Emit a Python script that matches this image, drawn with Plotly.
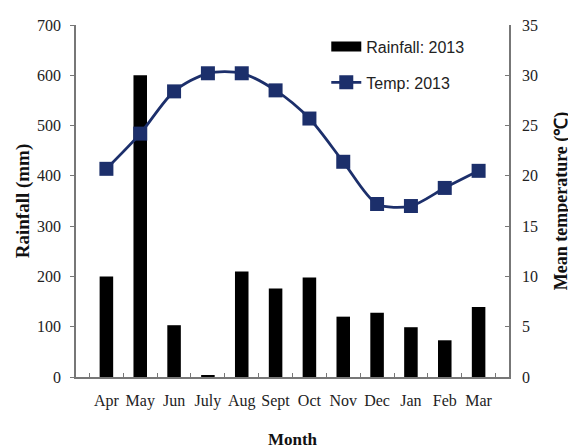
import plotly.graph_objects as go

months = ["Apr", "May", "Jun", "July", "Aug", "Sept", "Oct", "Nov", "Dec", "Jan", "Feb", "Mar"]
rainfall = [200, 600, 103, 3, 210, 176, 198, 120, 128, 99, 73, 139]
temperature = [20.7, 24.2, 28.4, 30.2, 30.2, 28.5, 25.7, 21.4, 17.2, 17.0, 18.8, 20.5]

navy = "#1c2f6b"
serif = "Liberation Serif, Times New Roman, serif"

fig = go.Figure()
fig.add_trace(go.Bar(
    x=months, y=rainfall, name="Rainfall: 2013",
    marker=dict(color="black", line=dict(width=0)),
    showlegend=False, yaxis="y",
))
# legend entry for rainfall (wide black block like the reference)
fig.add_trace(go.Scatter(
    x=[None], y=[None], name="Rainfall: 2013", mode="lines",
    line=dict(color="black", width=10),
    legendgroup="a", yaxis="y",
))
fig.add_trace(go.Scatter(
    x=months, y=temperature, name="Temp: 2013", mode="lines+markers",
    line=dict(color=navy, width=2.8, shape="spline", smoothing=0.8),
    marker=dict(symbol="square", size=14, color=navy),
    legendgroup="b", yaxis="y2",
))

fig.update_layout(
    width=576, height=448,
    margin=dict(l=68, r=75, t=17, b=79, autoexpand=False),
    plot_bgcolor="white", paper_bgcolor="white",
    bargap=0.6,
    showlegend=True,
    legend=dict(
        x=0.578, y=0.987, xanchor="left", yanchor="top",
        font=dict(family="Liberation Sans, Arial, sans-serif", size=16, color="#222"),
        bgcolor="rgba(0,0,0,0)", traceorder="grouped", tracegroupgap=12,
        itemwidth=30,
    ),
    xaxis=dict(
        showline=True, linecolor="#777", linewidth=1.5,
        ticks="inside", tickson="boundaries", ticklen=4, tickcolor="#777",
        tickangle=0, automargin=False, ticklabelstandoff=8,
        tickfont=dict(family=serif, size=16, color="#222"),
        title=dict(text="<b>Month</b>", font=dict(family=serif, size=17, color="#111"), standoff=24),
        showgrid=False, zeroline=False,
    ),
    yaxis=dict(
        range=[0, 700], dtick=100, automargin=False,
        showline=True, linecolor="#777", linewidth=1.5,
        ticks="outside", ticklen=4, tickcolor="#777", ticklabelstandoff=6,
        tickfont=dict(family=serif, size=16, color="#222"),
        title=dict(text="<b>Rainfall (mm)</b>", font=dict(family=serif, size=19, color="#111"), standoff=2),
        showgrid=False, zeroline=False,
    ),
    yaxis2=dict(
        range=[0, 35], dtick=5, overlaying="y", side="right", automargin=False,
        showline=True, linecolor="#777", linewidth=1.5,
        ticks="inside", ticklen=4, tickcolor="#777", ticklabelstandoff=8,
        tickfont=dict(family=serif, size=16, color="#222"),
        title=dict(text="<b>Mean temperature (℃)</b>", font=dict(family=serif, size=18, color="#111"), standoff=17),
        showgrid=False, zeroline=False,
    ),
)

fig.write_html("out.html")
